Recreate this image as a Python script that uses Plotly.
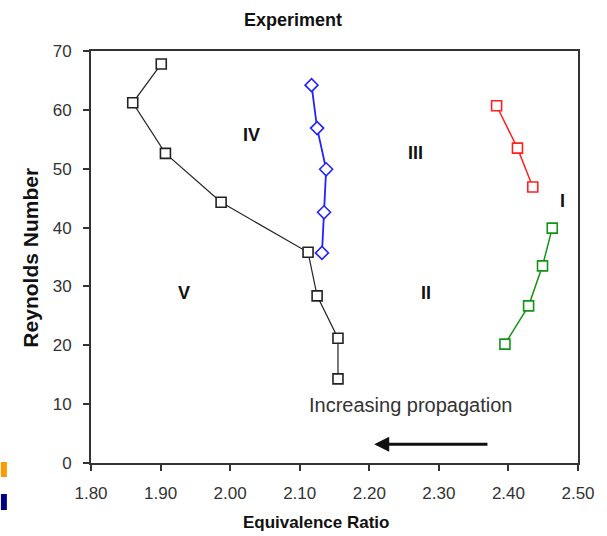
import plotly.graph_objects as go

# Flame regime boundaries: equivalence ratio vs Reynolds number
black_x = [1.901, 1.860, 1.907, 1.987, 2.112, 2.125, 2.155, 2.155]
black_y = [67.8, 61.2, 52.6, 44.3, 35.8, 28.4, 21.2, 14.3]

blue_x = [2.117, 2.125, 2.138, 2.135, 2.132]
blue_y = [64.2, 56.9, 49.9, 42.6, 35.7]

red_x = [2.383, 2.413, 2.435]
red_y = [60.7, 53.5, 46.9]

green_x = [2.463, 2.449, 2.429, 2.395]
green_y = [39.9, 33.5, 26.7, 20.2]

region_labels = ["IV", "III", "I", "II", "V"]
region_x = [2.031, 2.266, 2.478, 2.282, 1.934]
region_y = [55.7, 52.7, 44.5, 28.9, 28.9]

x_ticks = [1.80, 1.90, 2.00, 2.10, 2.20, 2.30, 2.40, 2.50]
y_ticks = [0, 10, 20, 30, 40, 50, 60, 70]

FONT = "Liberation Sans, Arial, sans-serif"

# plot area in pixels
L, R, T, B = 91, 583, 51, 463
PW, PH = R - L, B - T


def px(xpix):
    return (xpix - L) / PW


def py(ypix):
    return (B - ypix) / PH


fig = go.Figure()


def add_series(xs, ys, color, symbol, lw, msize):
    fig.add_trace(go.Scatter(
        x=xs, y=ys, mode="lines+markers",
        line=dict(color=color, width=lw),
        marker=dict(symbol=symbol, size=msize, color="white",
                    line=dict(color=color, width=1.6)),
        showlegend=False,
    ))


add_series(black_x, black_y, "#222222", "square", 1.2, 10)
add_series(blue_x, blue_y, "#2222FF", "diamond", 1.8, 10)
add_series(red_x, red_y, "#FF2020", "square", 1.5, 10)
add_series(green_x, green_y, "#149414", "square", 1.5, 10)

annotations = []
for lab, lx, ly in zip(region_labels, region_x, region_y):
    annotations.append(dict(x=lx, y=ly, text=f"<b>{lab}</b>", showarrow=False,
                            xanchor="center", yanchor="middle",
                            font=dict(family=FONT, size=18, color="#111111")))

annotations.append(dict(x=2.259, y=9.85, text="Increasing propagation", showarrow=False,
                        xanchor="center", yanchor="middle",
                        font=dict(family=FONT, size=20, color="#333333")))
# arrow pointing toward lower equivalence ratio
annotations.append(dict(x=2.207, y=3.2, ax=2.372, ay=3.2, xref="x", yref="y",
                        axref="x", ayref="y", text="", showarrow=True,
                        arrowhead=2, arrowsize=1.0, arrowwidth=3, arrowcolor="#111111"))

annotations.append(dict(x=px(295), y=py(20), xref="paper", yref="paper",
                        xanchor="center", yanchor="middle",
                        text="<b>Experiment</b>", showarrow=False,
                        font=dict(family=FONT, size=18, color="#111111")))
annotations.append(dict(x=px(318), y=py(522), xref="paper", yref="paper",
                        xanchor="center", yanchor="middle",
                        text="<b>Equivalence Ratio</b>", showarrow=False,
                        font=dict(family=FONT, size=17, color="#111111")))
annotations.append(dict(x=px(29), y=py(258), xref="paper", yref="paper",
                        xanchor="center", yanchor="middle",
                        text="<b>Reynolds Number</b>", showarrow=False, textangle=-90,
                        font=dict(family=FONT, size=21, color="#111111")))

shapes = [
    dict(type="rect", xref="paper", yref="paper",
         x0=px(0), x1=px(6), y0=py(477), y1=py(462),
         fillcolor="#FF9900", line=dict(width=0)),
    dict(type="rect", xref="paper", yref="paper",
         x0=px(0), x1=px(6), y0=py(510), y1=py(494),
         fillcolor="#000080", line=dict(width=0)),
]

axis_common = dict(showgrid=False, zeroline=False, showline=True, linecolor="#333333",
                   linewidth=2, mirror=True, ticks="outside", ticklen=6, tickwidth=1.5,
                   tickcolor="#333333",
                   tickfont=dict(family=FONT, size=17, color="#333333"))

fig.update_layout(
    width=607, height=536,
    margin=dict(l=L, r=607 - R, t=T, b=536 - B),
    paper_bgcolor="white", plot_bgcolor="white",
    xaxis=dict(range=[1.80, 2.50], tickvals=x_ticks,
               ticktext=[f"{v:.2f}" for v in x_ticks], ticklabelstandoff=8, **axis_common),
    yaxis=dict(range=[0, 70], tickvals=y_ticks, ticklabelstandoff=8, **axis_common),
    annotations=annotations,
    shapes=shapes,
)

fig.write_html("out.html")
